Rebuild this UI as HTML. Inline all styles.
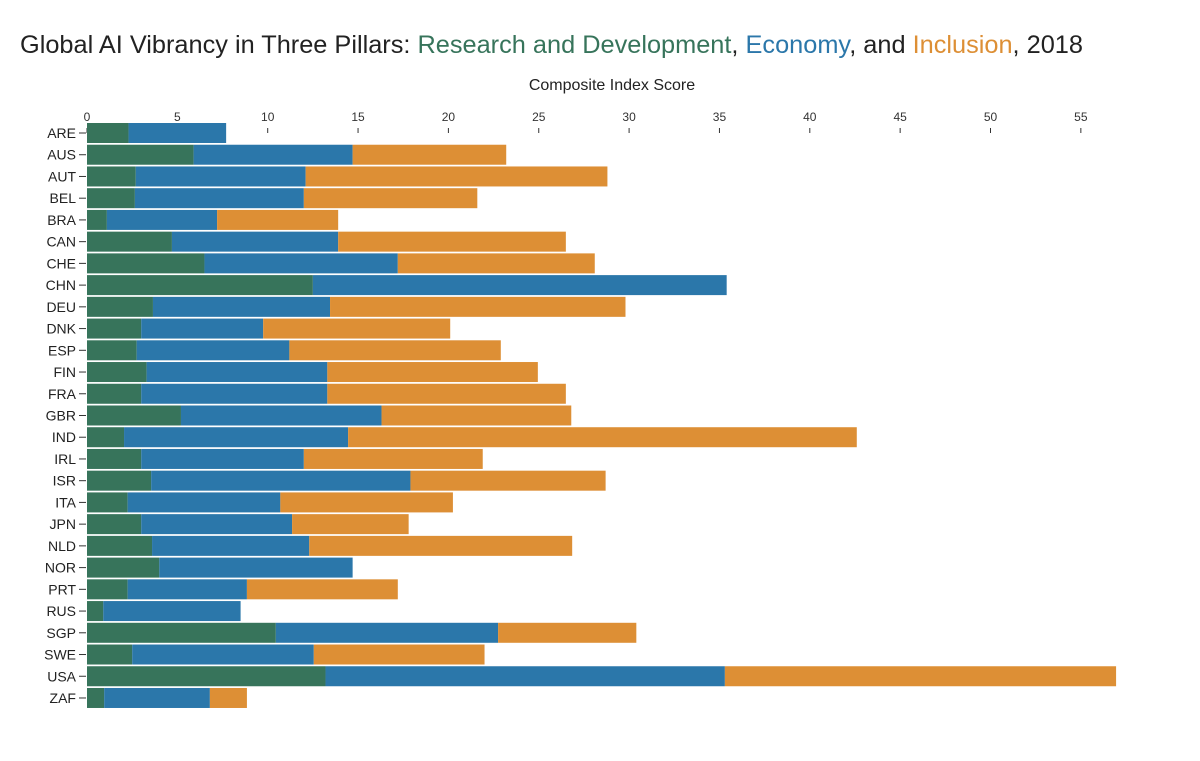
<!DOCTYPE html>
<html><head><meta charset="utf-8"><style>
body{margin:0;background:#fff;}
svg{display:block;font-family:"Liberation Sans",sans-serif;}
</style></head><body>
<svg id="chart" width="1200" height="761">
<text x="20" y="53" font-size="25" fill="#222" textLength="1063" lengthAdjust="spacingAndGlyphs">Global AI Vibrancy in Three Pillars: <tspan fill="#37745b">Research and Development</tspan>, <tspan fill="#2b77aa">Economy</tspan>, and <tspan fill="#dd8f35">Inclusion</tspan>, 2018</text>
<text x="612" y="90" font-size="16" fill="#222" text-anchor="middle">Composite Index Score</text>
<g id="xaxis"></g>
<g id="yaxis"></g>
<g id="bars"></g>
</svg>
<script>
const countries=["ARE","AUS","AUT","BEL","BRA","CAN","CHE","CHN","DEU","DNK","ESP","FIN","FRA","GBR","IND","IRL","ISR","ITA","JPN","NLD","NOR","PRT","RUS","SGP","SWE","USA","ZAF"];
const research=[2.3,5.9,2.7,2.65,1.1,4.7,6.5,12.5,3.65,3.0,2.75,3.3,3.0,5.2,2.05,3.0,3.55,2.25,3.0,3.6,4.0,2.25,0.9,10.45,2.5,13.2,0.95];
const economy=[5.4,8.8,9.4,9.35,6.1,9.2,10.7,22.9,9.8,6.75,8.45,10.0,10.3,11.1,12.4,9.0,14.35,8.45,8.35,8.7,10.7,6.6,7.6,12.3,10.05,22.1,5.85];
const inclusion=[0,8.5,16.7,9.6,6.7,12.6,10.9,0,16.35,10.35,11.7,11.65,13.2,10.5,28.15,9.9,10.8,9.55,6.45,14.55,0,8.35,0,7.65,9.45,21.65,2.05];
const ticks=[0,5,10,15,20,25,30,35,40,45,50,55];
const colors=["#37745b","#2b77aa","#dd8f35"];
const NS="http://www.w3.org/2000/svg";
const x0=87,kx=18.07,y0=123,step=21.73,bh=20;
const xs=v=>x0+v*kx;
const ys=i=>y0+i*step;
function mk(tag,attrs,parent){const e=document.createElementNS(NS,tag);for(const k in attrs)e.setAttribute(k,attrs[k]);parent.appendChild(e);return e;}
const xa=document.getElementById('xaxis'),ya=document.getElementById('yaxis'),bg=document.getElementById('bars');
ticks.forEach(t=>{
  const l=mk('line',{x1:xs(t),x2:xs(t),y1:128,y2:133,stroke:'#333','stroke-width':1},xa);
  
  
  const tx=mk('text',{x:xs(t),y:121,'font-size':12,fill:'#333','text-anchor':'middle'},xa);
  tx.textContent=t;
  
  
});
countries.forEach((c,i)=>{
  const cy=ys(i)+bh/2;
  const tl=mk('line',{x1:79,x2:86,y1:cy,y2:cy,stroke:'#333','stroke-width':1},ya);
  
  
  const t=mk('text',{x:76,y:cy+5,'font-size':14,fill:'#222','text-anchor':'end'},ya);
  t.textContent=c;
  
  
  const vals=[research[i],economy[i],inclusion[i]];
  const names=['research','economy','inclusion'];
  let acc=0;
  vals.forEach((v,j)=>{
    if(v<=0)return;
    const r=mk('rect',{x:xs(acc),y:ys(i),width:v*kx,height:bh,fill:colors[j]},bg);
    
    
    acc+=v;
  });
});
</script>
</body></html>
